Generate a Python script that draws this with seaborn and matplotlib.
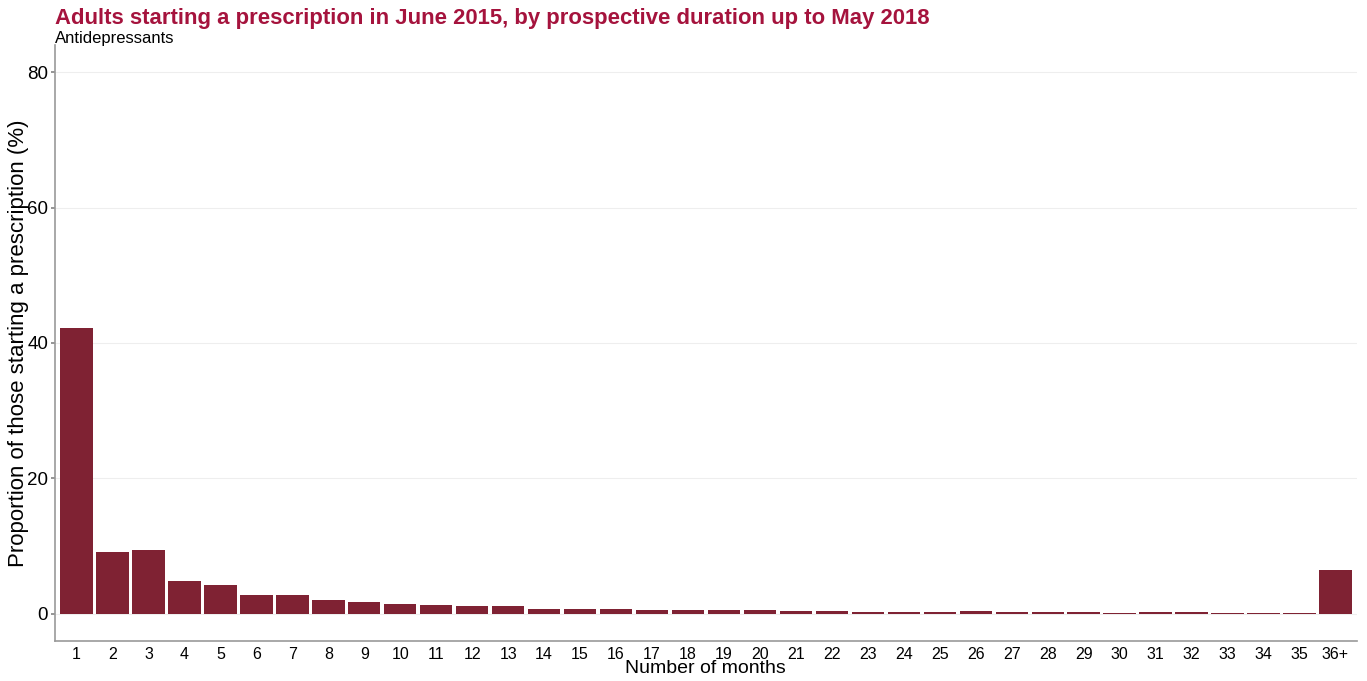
import numpy as np
import pandas as pd
import matplotlib
matplotlib.use('Agg')
import matplotlib.pyplot as plt
import seaborn as sns

# data
months = [str(i) for i in range(1, 36)] + ['36+']
proportion = [42.2, 9.1, 9.4, 4.8, 4.3, 2.75, 2.8, 2.1, 1.7, 1.45,
              1.3, 1.1, 1.1, 0.8, 0.7, 0.68, 0.62, 0.55, 0.65, 0.55,
              0.45, 0.45, 0.35, 0.35, 0.35, 0.4, 0.3, 0.3, 0.3, 0.2,
              0.3, 0.3, 0.2, 0.2, 0.2, 6.5]
y_ticks = [0, 20, 40, 60, 80]

df = pd.DataFrame({'month': months, 'proportion': proportion})

sns.set_theme(style='white')
plt.rcParams['font.family'] = ['Liberation Sans', 'DejaVu Sans']

fig = plt.figure(figsize=(13.67, 6.81), dpi=100)
ax = fig.add_axes([0.0402, 0.0587, 0.9525, 0.8753])

sns.barplot(data=df, x='month', y='proportion', order=months,
            color='#7f2233', saturation=1, width=0.9,
            edgecolor='none', linewidth=0, ax=ax)

ax.set_xlim(-0.6, len(months) - 0.4)
ax.set_ylim(-4, 84)
ax.set_yticks(y_ticks)
ax.set_yticklabels([str(t) for t in y_ticks], fontsize=13.5, color='black')
ax.tick_params(axis='x', labelsize=11.5, labelcolor='black', length=0, pad=4)
ax.tick_params(axis='y', length=3, color='#888888', pad=2, left=True)
ax.yaxis.grid(True, color='#eeeeee', linewidth=0.8)
ax.set_axisbelow(True)

for side in ['top', 'right']:
    ax.spines[side].set_visible(False)
for side in ['left', 'bottom']:
    ax.spines[side].set_color('#999999')
    ax.spines[side].set_linewidth(1.2)

# axis titles placed by hand so they sit where the reference has them
ax.set_xlabel('')
ax.set_ylabel('')
fig.text(0.516, 0.018, 'Number of months', fontsize=14, color='black',
         ha='center', va='center')
fig.text(0.0135, 0.496, 'Proportion of those starting a prescription (%)', fontsize=16,
         color='black', rotation=90, ha='center', va='center')

fig.text(0.0402, 0.973, 'Adults starting a prescription in June 2015, by prospective duration up to May 2018',
         fontsize=15.9, fontweight='bold', color='#a5133d', va='center', ha='left')
fig.text(0.0402, 0.944, 'Antidepressants', fontsize=12, color='black', va='center', ha='left')

plt.savefig('out.png', dpi=100)
plt.close()
